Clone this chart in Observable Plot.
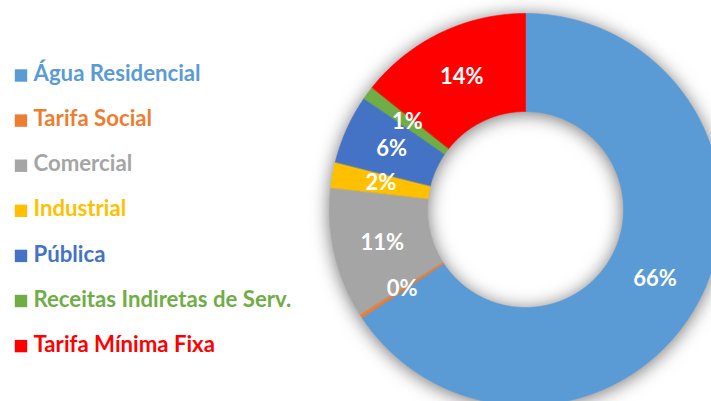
<!DOCTYPE html>
<html><head><meta charset="utf-8">
<script src="https://cdn.jsdelivr.net/npm/d3@7"></script>
<script src="https://cdn.jsdelivr.net/npm/@observablehq/plot@0.6"></script>
<style>
body{margin:0;background:#fff;}
#chart svg{display:block;overflow:hidden;}
#chart g[aria-label="line"]{filter:drop-shadow(0px 2px 9px rgba(0,0,0,0.55));}
</style></head><body><div id="chart"></div>
<script>
const categories = ["Água Residencial","Tarifa Social","Comercial","Industrial","Pública","Receitas Indiretas de Serv.","Tarifa Mínima Fixa"];
const values = [65.7,0.3,10.8,2.1,5.7,1.1,14.3];
const valueLabels = ["66%","0%","11%","2%","6%","1%","14%"];
const colors = ["#5B9BD5","#ED7D31","#A5A5A5","#FFC000","#4472C4","#70AD47","#FF0000"];

const W = 711, H = 401;
const cx = 525, cy = 209, R = 196, r = 98;
const total = d3.sum(values);

// slice polygons (angles clockwise from 12 o'clock)
const pts = [];
const mids = [];
let acc = 0;
categories.forEach((cat, i) => {
  const a0 = acc / total * 2 * Math.PI;
  acc += values[i];
  const a1 = acc / total * 2 * Math.PI;
  const n = Math.max(2, Math.ceil((a1 - a0) / (Math.PI / 360)));
  for (let k = 0; k <= n; k++) {
    const a = a0 + (a1 - a0) * k / n;
    pts.push({cat, x: cx + R * Math.sin(a), y: cy - R * Math.cos(a)});
  }
  for (let k = n; k >= 0; k--) {
    const a = a0 + (a1 - a0) * k / n;
    pts.push({cat, x: cx + r * Math.sin(a), y: cy - r * Math.cos(a)});
  }
  const am = (a0 + a1) / 2, rm = (R + r) / 2;
  mids.push({cat, label: valueLabels[i], x: cx + rm * Math.sin(am), y: cy - rm * Math.cos(am)});
});

const legendY0 = 75, legendStep = 45.1;
const legend = categories.map((cat, i) => ({cat, y: legendY0 + i * legendStep}));

const chart = Plot.plot({
  width: W, height: H,
  margin: 0,
  x: {domain: [0, W], range: [0, W], axis: null},
  y: {domain: [0, H], range: [0, H], axis: null},
  color: {domain: categories, range: colors},
  style: {fontFamily: "Lato, sans-serif", background: "#fff"},
  marks: [
    Plot.line(pts, {x: "x", y: "y", z: "cat", fill: "cat", stroke: "cat", strokeWidth: 0.6, curve: "linear-closed"}),
    Plot.text(mids, {x: "x", y: "y", text: "label", fill: "white", fontSize: 22, fontWeight: "bold"}),
    Plot.dot(legend, {x: 20.5, y: "y", symbol: "square", r: 7, fill: "cat", stroke: null}),
    Plot.text(legend, {x: 33, y: "y", text: "cat", fill: "cat", textAnchor: "start", fontSize: 22.2, fontWeight: "bold", dy: -1.5})
  ]
});
document.getElementById("chart").appendChild(chart);
</script>
</body></html>
